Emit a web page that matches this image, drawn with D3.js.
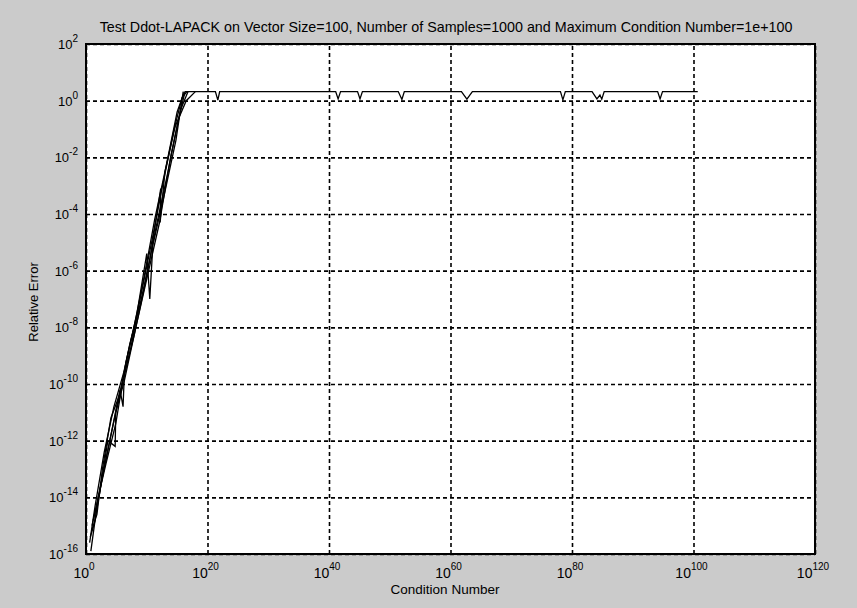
<!DOCTYPE html>
<html>
<head>
<meta charset="utf-8">
<script src="https://cdn.jsdelivr.net/npm/d3@7"></script>
<style>
  body { margin: 0; background: #c9c9c9; }
  svg { display: block; font-family: "Liberation Sans", Arial, sans-serif; }
</style>
</head>
<body>
<div id="chart-container"></div>
<script>
// tick exponents
let xTickExp = [0, 20, 40, 60, 80, 100, 120];
let yTickExp = [-16, -14, -12, -10, -8, -6, -4, -2, 0, 2];

// rising part, one line per sample group (log10 of condition number / relative error)
let condA = [0.6, 1.5, 3.0, 4.6, 6.2, 7.8, 9.5, 11.3, 13.2, 15.0, 16.2];
let errA  = [-15.6, -14.3, -12.4, -10.8, -9.6, -8.1, -6.3, -4.2, -2.3, -0.4, 0.32];
let condB = [0.9, 1.8, 2.7, 4.1, 5.5, 7.4, 9.0, 10.8, 12.6, 14.4, 15.8, 16.6];
let errB  = [-15.2, -14.6, -13.0, -11.2, -10.4, -8.7, -6.9, -5.0, -3.0, -1.1, 0.1, 0.32];
let condC = [1.2, 2.2, 3.6, 4.8, 4.9, 6.3, 8.3, 10.1, 12.1, 14.0, 15.6, 16.8];
let errC  = [-14.8, -13.9, -12.0, -12.2, -11.0, -9.9, -7.9, -6.2, -4.3, -1.9, -0.3, 0.32];
let condD = [0.8, 2.0, 3.3, 4.9, 6.6, 8.4, 10.0, 10.5, 11.0, 12.8, 14.8, 16.0];
let errD  = [-15.9, -14.0, -12.8, -11.4, -9.2, -7.5, -5.4, -7.0, -5.1, -3.4, -1.4, 0.32];
let condE = [1.0, 2.5, 4.0, 5.8, 7.2, 8.9, 10.6, 12.3, 12.2, 13.0, 14.7, 16.5, 18.0];
let errE  = [-15.0, -13.5, -11.9, -10.1, -8.6, -7.2, -5.5, -3.1, -4.3, -2.5, -0.9, 0.0, 0.32];
let condF = [0.7, 1.4, 2.6, 4.3, 5.6, 6.1, 6.3, 7.9, 9.6, 11.5, 13.4, 15.2, 16.3];
let errF  = [-15.4, -14.9, -13.4, -11.6, -10.2, -10.8, -9.7, -8.3, -6.6, -4.5, -2.6, -0.7, 0.32];

// saturated part
let condFlat = [16.3, 21.3, 21.7, 22.0, 41.1, 41.5, 41.9, 44.7, 45.1, 45.5, 51.4, 52.0, 52.4,
  61.8, 62.7, 63.6, 78.1, 78.5, 78.9, 83.3, 84.1, 84.6, 84.9, 85.3, 94.1, 94.5, 94.9, 100.7];
let errFlat  = [0.32, 0.32, 0.02, 0.32, 0.32, 0.06, 0.32, 0.32, 0.06, 0.32, 0.32, 0.04, 0.32,
  0.32, 0.05, 0.32, 0.32, 0.03, 0.32, 0.32, 0.06, 0.20, 0.05, 0.32, 0.32, 0.06, 0.32, 0.32];

let series = [
  [condA, errA], [condB, errB], [condC, errC], [condD, errD],
  [condE, errE], [condF, errF], [condFlat, errFlat]
];

let W = 857, H = 608;
let padL = 86, padR = 815, padT = 44, padB = 554;

let svg = d3.select("#chart-container")
  .append("svg")
  .attr("width", W)
  .attr("height", H)
  .attr("viewBox", "0 0 " + W + " " + H);

svg.append("rect").attr("width", W).attr("height", H).attr("fill", "#cbcbcb");

let x = d3.scaleLog().domain([1, 1e120]).range([padL, padR]);
let y = d3.scaleLog().domain([1e-16, 1e2]).range([padB, padT]);
let p10 = e => Math.pow(10, e);

// plot area
svg.append("rect")
  .attr("x", padL).attr("y", padT)
  .attr("width", padR - padL).attr("height", padB - padT)
  .attr("fill", "#fff");

// grid
svg.append("g")
  .attr("transform", "translate(0," + padB + ")")
  .call(d3.axisBottom(x).tickValues(xTickExp.map(p10)).tickSize(-(padB - padT)).tickFormat(""))
  .call(g => g.select(".domain").remove())
  .selectAll("line")
  .attr("stroke", "#000").attr("stroke-width", 1.6).attr("stroke-dasharray", "4,3");

svg.append("g")
  .attr("transform", "translate(" + padL + ",0)")
  .call(d3.axisLeft(y).tickValues(yTickExp.map(p10)).tickSize(-(padR - padL)).tickFormat(""))
  .call(g => g.select(".domain").remove())
  .selectAll("line")
  .attr("stroke", "#000").attr("stroke-width", 1.6).attr("stroke-dasharray", "4,3");

// data lines
let line = d3.line()
  .x(d => x(p10(d[0])))
  .y(d => y(p10(d[1])));

svg.append("g").selectAll("path")
  .data(series.map(s => s[0].map((c, i) => [c, s[1][i]])))
  .join("path")
  .attr("d", line)
  .attr("fill", "none")
  .attr("stroke", "#000")
  .attr("stroke-width", 1.3);

// box
svg.append("rect")
  .attr("x", padL).attr("y", padT)
  .attr("width", padR - padL).attr("height", padB - padT)
  .attr("fill", "none").attr("stroke", "#000").attr("stroke-width", 2);

// x tick labels
let xl = svg.append("g").selectAll("text").data(xTickExp).join("text")
  .attr("x", d => x(p10(d)) - 2)
  .attr("y", 578)
  .attr("text-anchor", "middle")
  .style("font-size", "14px");
xl.append("tspan").text("10");
xl.append("tspan").attr("dy", -8).style("font-size", "10px").text(d => d);

// y tick labels
let yl = svg.append("g").selectAll("text").data(yTickExp).join("text")
  .attr("x", 78)
  .attr("y", d => y(p10(d)) + 5)
  .attr("text-anchor", "end")
  .style("font-size", "13px");
yl.append("tspan").text("10");
yl.append("tspan").attr("dy", -7).style("font-size", "10px").text(d => d);

// titles
svg.append("text")
  .attr("x", 446).attr("y", 32)
  .attr("text-anchor", "middle")
  .style("font-size", "14.3px")
  .text("Test Ddot-LAPACK on Vector Size=100, Number of Samples=1000 and Maximum Condition Number=1e+100");

svg.append("text")
  .attr("x", 445).attr("y", 594)
  .attr("text-anchor", "middle")
  .style("font-size", "13.5px")
  .text("Condition Number");

svg.append("text")
  .attr("transform", "translate(38,302) rotate(-90)")
  .attr("text-anchor", "middle")
  .style("font-size", "13px")
  .text("Relative Error");
</script>
</body>
</html>
